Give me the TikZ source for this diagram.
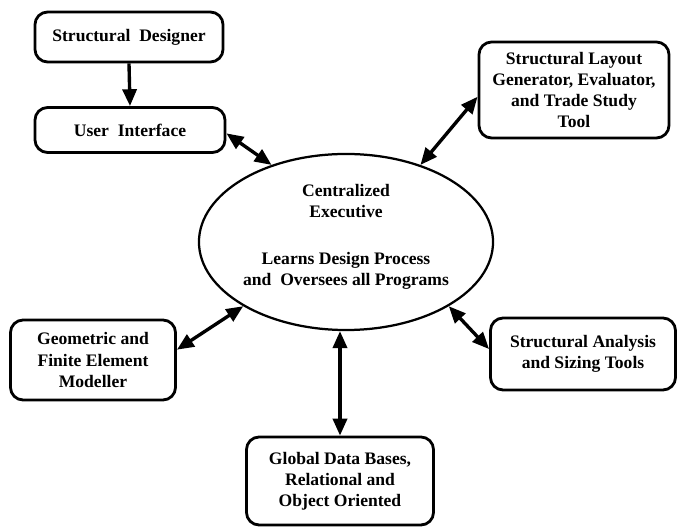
\documentclass[tikz,border=0pt]{standalone}
\usepackage{fontspec}
\setmainfont{Liberation Serif}
\usetikzlibrary{arrows.meta,shapes.geometric}

\tikzset{
  box/.style={draw, line width=2pt, rounded corners=9pt, align=center,
    font=\bfseries\fontsize{12.5}{15}\selectfont},
  link/.style={line width=2.4pt, {Triangle[length=12pt,width=10pt]}-{Triangle[length=12pt,width=10pt]}},
  feed/.style={line width=2.4pt, -{Triangle[length=12pt,width=10pt]}}
}

\begin{document}
\begin{tikzpicture}[x=0.025cm, y=0.025cm]
  \useasboundingbox (0,0) rectangle (680,527);

  % Executive
  \node[draw, ellipse, line width=1.6pt, minimum width=7.35cm, minimum height=4.4cm] (exec) at (346,285) {};
  \node[align=center, font=\bfseries\fontsize{12.5}{15}\selectfont] (exectext) at (346,290)
    {Centralized\\ Executive\\[18pt] Learns Design Process\\ and~~Oversees all Programs};

  % Boxes
  \node[box, minimum width=4.7cm, minimum height=1.25cm] (des) at (129,490) {Structural~~Designer};
  \node[box, minimum width=4.75cm, minimum height=1.125cm] (ui) at (130,397) {User~~Interface};
  \node[box, minimum width=4.75cm, minimum height=2.4cm] (lay) at (574,437)
    {Structural Layout\\ Generator, Evaluator,\\ and Trade Study\\ Tool};
  \node[box, minimum width=4.125cm, minimum height=2cm] (geo) at (93,167)
    {Geometric and\\ Finite Element\\ Modeller};
  \node[box, minimum width=4.625cm, minimum height=1.8cm] (ana) at (583,173)
    {Structural Analysis\\ and Sizing Tools};
  \node[box, minimum width=4.675cm, minimum height=2.2cm] (db) at (340,46)
    {Global Data Bases,\\ Relational and\\ Object Oriented};

  % Arrows
  \draw[feed] (des.south) -- (ui.north);
  \draw[link] (ui.-2) -- (exec.134);
  \draw[link] (lay.184) -- (exec.46);
  \draw[link] (geo.7) -- (exec.212);
  \draw[link] (ana.177) -- (exec.-32);
  \draw[link] (exec.south -| db.north) -- (db.north);
\end{tikzpicture}
\end{document}
